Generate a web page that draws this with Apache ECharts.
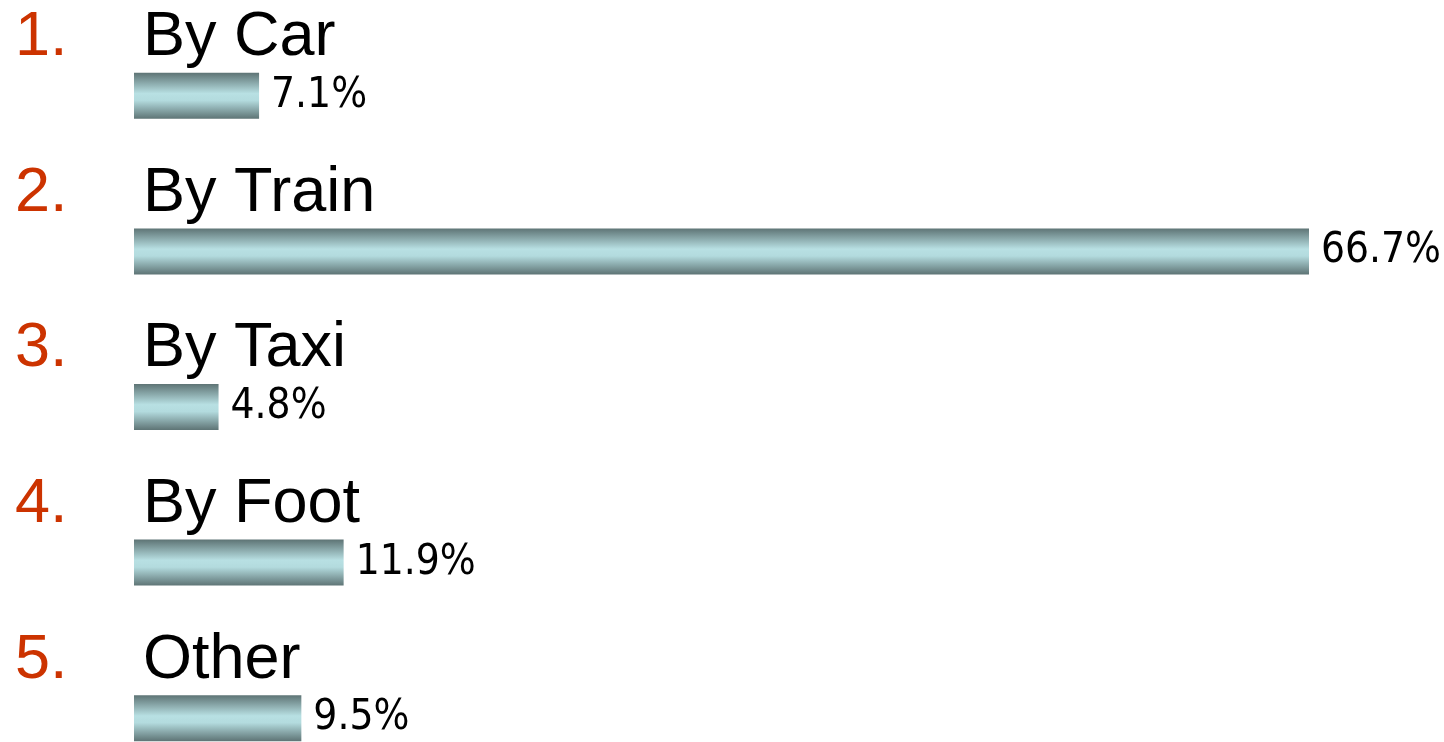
<!DOCTYPE html>
<html>
<head>
<meta charset="utf-8">
<script src="https://cdn.jsdelivr.net/npm/echarts@6/dist/echarts.min.js"></script>
<style>
  html, body { margin: 0; padding: 0; background: #fff; }
  #chart { width: 1444px; height: 742px; }
</style>
</head>
<body>
<div id="chart"></div>
<script>
var categories = ['By Car', 'By Train', 'By Taxi', 'By Foot', 'Other'];
var shares = [7.1, 66.7, 4.8, 11.9, 9.5];

var myChart = echarts.init(document.getElementById('chart'));

// metallic look: dark edges, pale cyan middle
var barColor = new echarts.graphic.LinearGradient(0, 0, 0, 1, [
    { offset: 0, color: '#5e7475' },
    { offset: 0.45, color: '#b8e0e3' },
    { offset: 0.6, color: '#b3dbde' },
    { offset: 1, color: '#5e7475' }
]);

var option = {
    animation: false,
    grid: { left: 134, right: 135, top: 18, height: 778, outerBoundsMode: 'none' },
    xAxis: {
        type: 'value',
        min: 0,
        max: 66.7,
        show: false
    },
    yAxis: {
        type: 'category',
        inverse: true,
        data: categories,
        axisLine: { show: false },
        axisTick: { show: false },
        axisLabel: {
            align: 'left',
            margin: 119,
            verticalAlign: 'middle',
            padding: [0, 0, 116, 0],
            formatter: function (value, idx) {
                return '{num|' + (idx + 1) + '.}{name|' + value + '}';
            },
            rich: {
                num: {
                    width: 128,
                    fontSize: 63,
                    color: '#cc3300',
                    fontFamily: 'Liberation Sans'
                },
                name: {
                    fontSize: 63,
                    color: '#000',
                    fontFamily: 'Liberation Sans'
                }
            }
        }
    },
    series: [
        {
            type: 'bar',
            data: shares,
            barWidth: 46,
            itemStyle: { color: barColor },
            label: {
                show: true,
                position: 'right',
                distance: 12,
                formatter: '{c}%',
                fontSize: 42,
                color: '#000',
                fontFamily: '"DejaVu Sans Condensed", sans-serif'
            }
        }
    ]
};
myChart.setOption(option);
</script>
</body>
</html>
